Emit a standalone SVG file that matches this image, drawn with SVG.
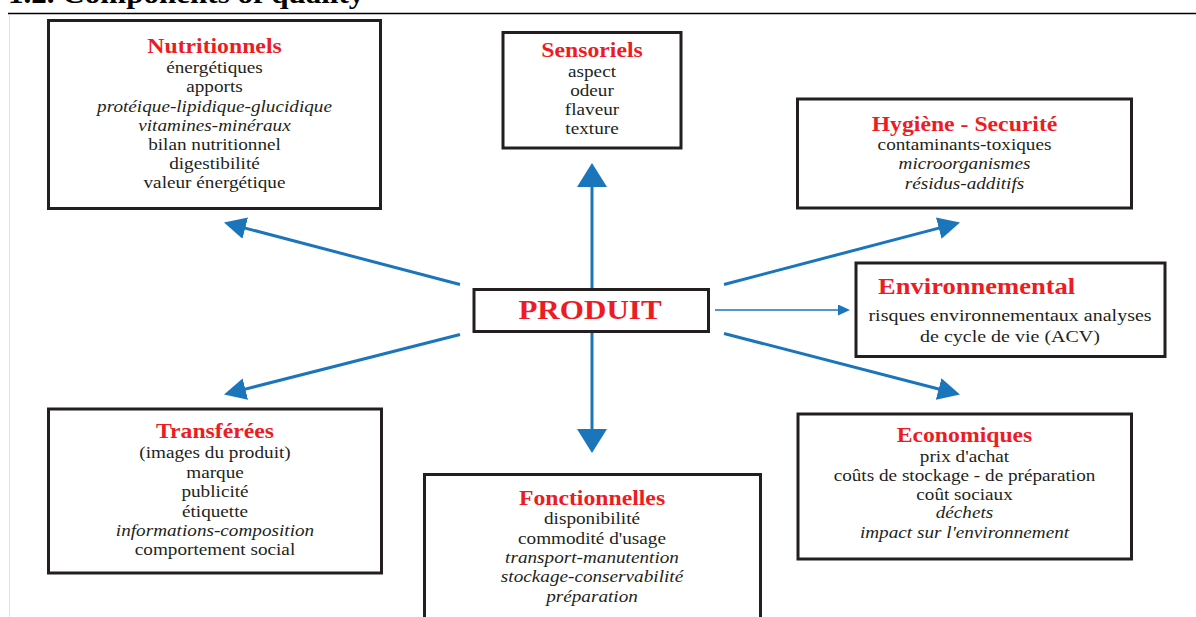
<svg xmlns="http://www.w3.org/2000/svg" width="1196" height="617" viewBox="0 0 1196 617">
<style>
.box{fill:#fff;stroke:#231f20;stroke-width:3}
.b{font-family:"Liberation Serif","Times New Roman",serif;font-size:17px;fill:#231f20;text-anchor:middle}
.i{font-style:italic}
.t{font-family:"Liberation Serif","Times New Roman",serif;font-size:21px;font-weight:bold;fill:#ed1c24;text-anchor:middle}
.con{stroke:#1b75bb;stroke-width:3;fill:none}
.thin{stroke:#1b75bb;stroke-width:1.5;fill:none}
</style>
<defs>
<marker id="ah" viewBox="0 0 22 22" refX="2" refY="11" markerWidth="22" markerHeight="22" markerUnits="userSpaceOnUse" orient="auto"><path d="M0,0 L22,11 L0,22 z" fill="#1b75bb"/></marker>
<marker id="ahv" viewBox="0 0 24 30" refX="2" refY="15" markerWidth="24" markerHeight="30" markerUnits="userSpaceOnUse" orient="auto"><path d="M0,0 L24,15 L0,30 z" fill="#1b75bb"/></marker>
<marker id="ahs" viewBox="0 0 12 11" refX="2" refY="5.5" markerWidth="12" markerHeight="11" markerUnits="userSpaceOnUse" orient="auto"><path d="M0,0 L12,5.5 L0,11 z" fill="#1b75bb"/></marker>
</defs>
<rect x="0" y="0" width="1196" height="617" fill="#fff"/>
<g id="heading">
<text transform="translate(8,3) scale(1.13,1)" style="font-family:'Liberation Serif',serif;font-size:27.5px;font-weight:bold;fill:#000">1.2. Components of quality</text>
<line x1="8" y1="13.5" x2="1196" y2="13.5" stroke="#000" stroke-width="1.5"/>
<line x1="9.5" y1="15" x2="9.5" y2="617" stroke="#e0e0e0" stroke-width="1"/>
</g>
<g id="connectors">
<line class="con" x1="460" y1="284.5" x2="243.3" y2="227.6" marker-end="url(#ah)"/>
<line class="con" x1="460" y1="334.5" x2="243.4" y2="389.6" marker-end="url(#ah)"/>
<line class="con" x1="724" y1="284.5" x2="940.7" y2="227.6" marker-end="url(#ah)"/>
<line class="con" x1="724" y1="333.5" x2="940.6" y2="389.5" marker-end="url(#ah)"/>
<line class="con" x1="592" y1="289" x2="592" y2="185" marker-end="url(#ahv)"/>
<line class="con" x1="592" y1="332" x2="592" y2="431" marker-end="url(#ahv)"/>
<line class="thin" x1="715" y1="310" x2="840" y2="310" marker-end="url(#ahs)"/>
</g>
<g id="nutritionnels">
<rect class="box" x="48.5" y="20.5" width="332" height="188"/>
<g transform="translate(214.5,0) scale(1.13,1)">
<text class="t" x="0" y="53">Nutritionnels</text>
<text class="b" x="0" y="73.3">énergétiques</text>
<text class="b" x="0" y="92.5">apports</text>
<text class="b i" x="0" y="111.7">protéique-lipidique-glucidique</text>
<text class="b i" x="0" y="130.8">vitamines-minéraux</text>
<text class="b" x="0" y="150">bilan nutritionnel</text>
<text class="b" x="0" y="169">digestibilité</text>
<text class="b" x="0" y="188">valeur énergétique</text>
</g>
</g>
<g id="sensoriels">
<rect class="box" x="503" y="32.5" width="178" height="115.5"/>
<g transform="translate(592,0) scale(1.13,1)">
<text class="t" x="0" y="57.3">Sensoriels</text>
<text class="b" x="0" y="76.7">aspect</text>
<text class="b" x="0" y="96">odeur</text>
<text class="b" x="0" y="115">flaveur</text>
<text class="b" x="0" y="134">texture</text>
</g>
</g>
<g id="hygiene">
<rect class="box" x="797.5" y="99" width="334" height="109"/>
<g transform="translate(964.5,0) scale(1.13,1)">
<text class="t" x="0" y="130.7">Hygiène - Securité</text>
<text class="b" x="0" y="150">contaminants-toxiques</text>
<text class="b i" x="0" y="169.5">microorganismes</text>
<text class="b i" x="0" y="189">résidus-additifs</text>
</g>
</g>
<g id="environnemental">
<rect class="box" x="856" y="263" width="309" height="93.5"/>
<g transform="translate(1010,0) scale(1.13,1)">
<text class="t" x="-116.8" y="294" style="font-size:23.5px;text-anchor:start">Environnemental</text>
<text class="b" x="0" y="321" style="font-size:17.7px">risques environnementaux analyses</text>
<text class="b" x="0" y="342.5" style="font-size:17.7px">de cycle de vie (ACV)</text>
</g>
</g>
<g id="produit">
<rect class="box" x="474" y="289.5" width="234.5" height="42"/>
<g transform="translate(590,0) scale(1.13,1)">
<text class="t" x="0" y="319" style="font-size:27.5px">PRODUIT</text>
</g>
</g>
<g id="transferees">
<rect class="box" x="48.5" y="409" width="333" height="164"/>
<g transform="translate(215,0) scale(1.13,1)">
<text class="t" x="0" y="438.5">Transférées</text>
<text class="b" x="0" y="458.5">(images du produit)</text>
<text class="b" x="0" y="478">marque</text>
<text class="b" x="0" y="497.3">publicité</text>
<text class="b" x="0" y="516.7">étiquette</text>
<text class="b i" x="0" y="536">informations-composition</text>
<text class="b" x="0" y="555">comportement social</text>
</g>
</g>
<g id="fonctionnelles">
<rect class="box" x="424.5" y="474.5" width="336" height="160"/>
<g transform="translate(592,0) scale(1.13,1)">
<text class="t" x="0" y="505">Fonctionnelles</text>
<text class="b" x="0" y="524.5">disponibilité</text>
<text class="b" x="0" y="544">commodité d'usage</text>
<text class="b i" x="0" y="563.3">transport-manutention</text>
<text class="b i" x="0" y="582.5">stockage-conservabilité</text>
<text class="b i" x="0" y="601.7">préparation</text>
</g>
</g>
<g id="economiques">
<rect class="box" x="798" y="414" width="333.5" height="145"/>
<g transform="translate(964.5,0) scale(1.13,1)">
<text class="t" x="0" y="442.3">Economiques</text>
<text class="b" x="0" y="462.3">prix d'achat</text>
<text class="b" x="0" y="481">coûts de stockage - de préparation</text>
<text class="b" x="0" y="500">coût sociaux</text>
<text class="b i" x="0" y="518.5">déchets</text>
<text class="b i" x="0" y="537.8">impact sur l'environnement</text>
</g>
</g>
</svg>
